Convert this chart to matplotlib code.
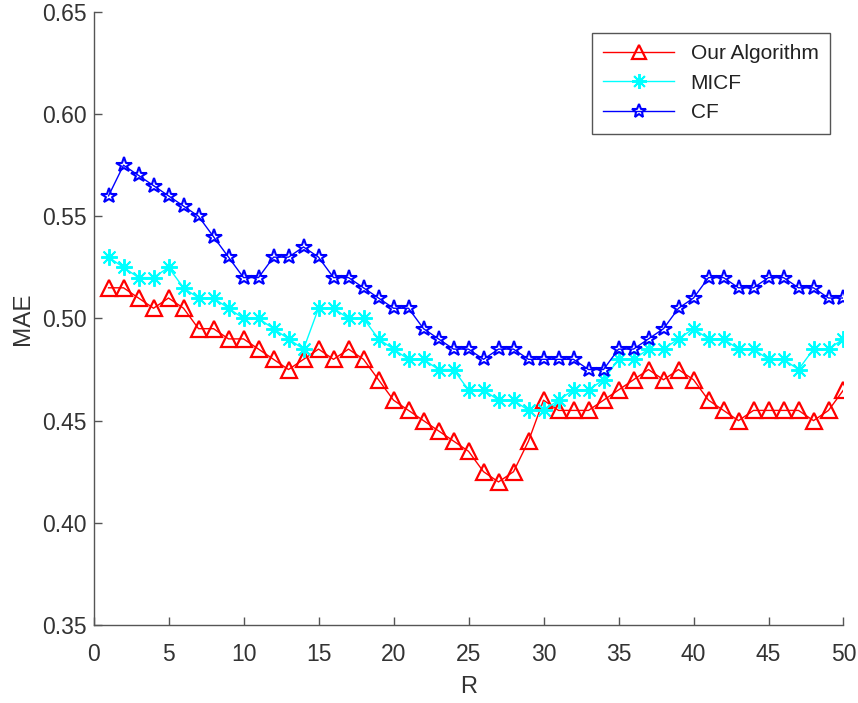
import matplotlib
matplotlib.use("Agg")
import matplotlib.pyplot as plt
import numpy as np

R = list(range(1, 51))

our_algorithm = [0.515, 0.515, 0.510, 0.505, 0.510, 0.505, 0.495, 0.495, 0.490, 0.490,
                 0.485, 0.480, 0.475, 0.480, 0.485, 0.480, 0.485, 0.480, 0.470, 0.460,
                 0.455, 0.450, 0.445, 0.440, 0.435, 0.425, 0.420, 0.425, 0.440, 0.460,
                 0.455, 0.455, 0.455, 0.460, 0.465, 0.470, 0.475, 0.470, 0.475, 0.470,
                 0.460, 0.455, 0.450, 0.455, 0.455, 0.455, 0.455, 0.450, 0.455, 0.465]

micf = [0.530, 0.525, 0.520, 0.520, 0.525, 0.515, 0.510, 0.510, 0.505, 0.500,
        0.500, 0.495, 0.490, 0.485, 0.505, 0.505, 0.500, 0.500, 0.490, 0.485,
        0.480, 0.480, 0.475, 0.475, 0.465, 0.465, 0.460, 0.460, 0.455, 0.455,
        0.460, 0.465, 0.465, 0.470, 0.480, 0.480, 0.485, 0.485, 0.490, 0.495,
        0.490, 0.490, 0.485, 0.485, 0.480, 0.480, 0.475, 0.485, 0.485, 0.490]

cf = [0.560, 0.575, 0.570, 0.565, 0.560, 0.555, 0.550, 0.540, 0.530, 0.520,
      0.520, 0.530, 0.530, 0.535, 0.530, 0.520, 0.520, 0.515, 0.510, 0.505,
      0.505, 0.495, 0.490, 0.485, 0.485, 0.480, 0.485, 0.485, 0.480, 0.480,
      0.480, 0.480, 0.475, 0.475, 0.485, 0.485, 0.490, 0.495, 0.505, 0.510,
      0.520, 0.520, 0.515, 0.515, 0.520, 0.520, 0.515, 0.515, 0.510, 0.510]

series_labels = ["Our Algorithm", "MICF", "CF"]
x_ticks = [0, 5, 10, 15, 20, 25, 30, 35, 40, 45, 50]
y_ticks = [0.35, 0.40, 0.45, 0.50, 0.55, 0.60, 0.65]

plt.rcParams['font.family'] = ['Liberation Sans', 'DejaVu Sans']

fig = plt.figure(figsize=(8.58, 7.03), dpi=100)
ax = fig.add_axes([0.109, 0.111, 0.9831 - 0.109, 0.983 - 0.111])

ax.plot(R, our_algorithm, color='red', lw=1.0, marker='^', ms=11, mfc='none',
        mec='red', mew=1.6, label=series_labels[0])
ax.plot(R, micf, color='cyan', lw=1.0, marker=(8, 2, 0), ms=12, mfc='none',
        mec='cyan', mew=1.4, label=series_labels[1])
ax.plot(R, cf, color='blue', lw=1.0, marker='*', ms=11.5, mfc='none',
        mec='blue', mew=1.5, label=series_labels[2])

ax.set_xlim(0, 50)
ax.set_ylim(0.35, 0.65)
ax.set_xticks(x_ticks)
ax.set_yticks(y_ticks)
ax.set_yticklabels([f"{v:.2f}" for v in y_ticks])

spine_col = '#555555'
for s in ['top', 'right']:
    ax.spines[s].set_visible(False)
for s in ['left', 'bottom']:
    ax.spines[s].set_color(spine_col)
    ax.spines[s].set_linewidth(1.0)

ax.tick_params(direction='in', length=6, width=1.0, color=spine_col,
               labelsize=16.5, labelcolor='#333333')
ax.tick_params(axis='x', pad=13)
ax.tick_params(axis='y', pad=5)

ax.set_xlabel('R', fontsize=17, color='#333333', labelpad=7)
ax.set_ylabel('MAE', fontsize=17.5, color='#333333', labelpad=5.5)

leg = ax.legend(loc='upper right', bbox_to_anchor=(0.982, 0.966), fontsize=15,
                handlelength=3.4, handletextpad=0.8, labelspacing=0.5,
                borderpad=0.55, fancybox=False, framealpha=1, edgecolor='#555555',
                borderaxespad=0, markerscale=0.9)
leg.get_frame().set_linewidth(1.0)
for t in leg.get_texts():
    t.set_color('#222222')

fig.savefig('out.png', dpi=100)
